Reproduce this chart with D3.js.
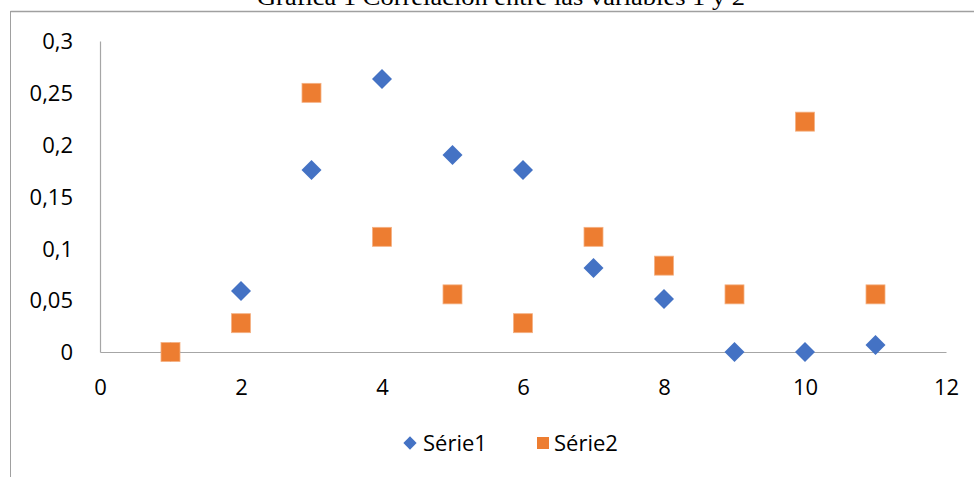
<!DOCTYPE html>
<html>
<head>
<meta charset="utf-8">
<script src="https://cdn.jsdelivr.net/npm/d3@7"></script>
<style>
  html, body { margin: 0; padding: 0; background: #fff; }
  svg { display: block; }
</style>
</head>
<body>
<svg id="chart" width="974" height="477"></svg>
<script>
const title = "Grafica 1 Correlación entre las variables 1 y 2";
const seriesNames = ["Série1", "Série2"];
const xValues = [1, 2, 3, 4, 5, 6, 7, 8, 9, 10, 11];
const serie1 = [0, 0.0588, 0.1756, 0.2633, 0.19, 0.1756, 0.081, 0.0511, 0, 0, 0.0068];
const serie2 = [0, 0.0278, 0.25, 0.1111, 0.0556, 0.0278, 0.1111, 0.0833, 0.0556, 0.2222, 0.0556];
const xTicks = [0, 2, 4, 6, 8, 10, 12];
const yTicks = [0, 0.05, 0.1, 0.15, 0.2, 0.25, 0.3];

const svg = d3.select("#chart");
const font = "'Open Sans', 'Noto Sans', sans-serif";
const fs = 22;
const blue = "#4472C4", orange = "#ED7D31";

// outer frame (partial, as in reference)
svg.append("line").attr("x1", 10.5).attr("x2", 974).attr("y1", 11.5).attr("y2", 11.5)
  .attr("stroke", "#a0a0a0").attr("stroke-width", 1.5);
svg.append("line").attr("x1", 10.5).attr("x2", 10.5).attr("y1", 11).attr("y2", 477)
  .attr("stroke", "#a0a0a0").attr("stroke-width", 1);

// title (cut off at top, as in reference)
svg.append("text").attr("x", 501).attr("y", 5).attr("text-anchor", "middle")
  .attr("font-family", "'Liberation Serif', 'Times New Roman', serif")
  .attr("font-size", 23).attr("textLength", 488).attr("lengthAdjust", "spacingAndGlyphs")
  .attr("fill", "#000").text(title);

const x = d3.scaleLinear().domain([0, 12]).range([100, 946]);
const y = d3.scaleLinear().domain([0, 0.3]).range([352, 41]);

const fmt = d => String(d).replace(".", ",");

// x axis
const xAxis = svg.append("g").attr("transform", `translate(0,${y(0)})`)
  .call(d3.axisBottom(x).tickValues(xTicks).tickSize(0).tickFormat(d => d));
xAxis.select(".domain").attr("stroke", "#a6a6a6").attr("stroke-width", 1.2);
xAxis.selectAll("text").attr("font-family", font).attr("font-size", fs).attr("fill", "#000")
  .attr("dy", null).attr("y", 43);

// y axis
const yAxis = svg.append("g").attr("transform", `translate(${x(0)},0)`)
  .call(d3.axisLeft(y).tickValues(yTicks).tickSize(0).tickFormat(fmt));
yAxis.select(".domain").attr("stroke", "#a6a6a6").attr("stroke-width", 1.2);
yAxis.selectAll("text").attr("font-family", font).attr("font-size", fs).attr("fill", "#000")
  .attr("x", -27).attr("dy", "0.35em");

const pts1 = xValues.map((v, i) => ({ x: v, y: serie1[i] }));
const pts2 = xValues.map((v, i) => ({ x: v, y: serie2[i] }));

const diamond = d3.symbol().type(d3.symbolSquare).size(200);
svg.append("g").selectAll("path").data(pts1).join("path")
  .attr("d", diamond)
  .attr("transform", d => `translate(${x(d.x)},${y(d.y)}) rotate(45)`)
  .attr("fill", blue);

const sq = 19;
svg.append("g").selectAll("rect").data(pts2).join("rect")
  .attr("x", d => x(d.x) - sq / 2).attr("y", d => y(d.y) - sq / 2)
  .attr("width", sq).attr("height", sq)
  .attr("fill", orange).attr("stroke", "#F4B183").attr("stroke-width", 0.8);

// legend
const lg = svg.append("g");
lg.append("path").attr("d", d3.symbol().type(d3.symbolSquare).size(88))
  .attr("transform", "translate(410,443) rotate(45)").attr("fill", blue);
lg.append("text").attr("x", 423).attr("y", 443).attr("dy", "0.35em")
  .attr("font-family", font).attr("font-size", fs).attr("fill", "#000").text(seriesNames[0]);
lg.append("rect").attr("x", 537).attr("y", 437).attr("width", 12).attr("height", 12).attr("fill", orange);
lg.append("text").attr("x", 554).attr("y", 443).attr("dy", "0.35em")
  .attr("font-family", font).attr("font-size", fs).attr("fill", "#000").text(seriesNames[1]);
</script>
</body>
</html>
